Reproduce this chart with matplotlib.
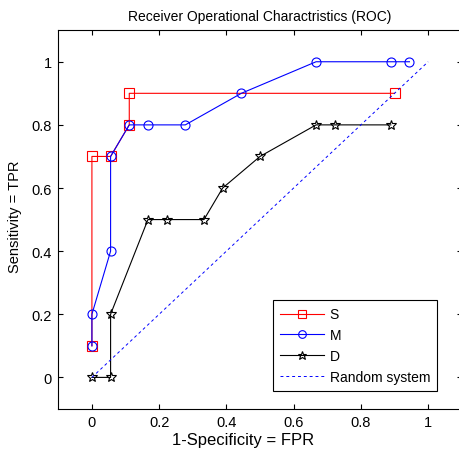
import numpy as np
import matplotlib
matplotlib.use("Agg")
import matplotlib.pyplot as plt

# ================================================================
# DATOS
# ================================================================
s_fpr = [0, 0, 1/18, 2/18, 2/18, 0.9]
s_tpr = [0.1, 0.7, 0.7, 0.8, 0.9, 0.9]

m_fpr = [0, 0, 1/18, 1/18, 2/18, 3/18, 5/18, 8/18, 12/18, 16/18, 17/18]
m_tpr = [0.1, 0.2, 0.4, 0.7, 0.8, 0.8, 0.8, 0.9, 1.0, 1.0, 1.0]

d_fpr = [0, 1/18, 1/18, 3/18, 4/18, 6/18, 7/18, 9/18, 12/18, 13/18, 16/18]
d_tpr = [0, 0, 0.2, 0.5, 0.5, 0.5, 0.6, 0.7, 0.8, 0.8, 0.8]

rand_x = [0, 1]
rand_y = [0, 1]

ticks = [0, 0.2, 0.4, 0.6, 0.8, 1]
tick_labels = ["0", "0.2", "0.4", "0.6", "0.8", "1"]

# ================================================================
# FIGURA
# ================================================================
plt.rcParams["font.family"] = ["Liberation Sans", "DejaVu Sans"]
plt.rcParams["font.size"] = 10.5

fig = plt.figure(figsize=(4.59, 4.52), dpi=100)
ax = fig.add_axes([0.127, 0.093, 0.879, 0.838])

ax.plot(s_fpr, s_tpr, color="red", lw=0.8, marker="s", ms=7,
        mfc="none", mec="red", mew=0.8, label="S")
ax.plot(m_fpr, m_tpr, color="blue", lw=0.8, marker="o", ms=6.5,
        mfc="none", mec="blue", mew=0.8, label="M")
ax.plot(d_fpr, d_tpr, color="black", lw=0.8, marker="*", ms=7.5,
        mfc="none", mec="black", mew=0.8, label="D")
ax.plot(rand_x, rand_y, color="blue", lw=0.7, ls=(0, (3, 3)),
        label="Random system")

ax.set_xlim(-0.1, 1.1)
ax.set_ylim(-0.1, 1.1)
ax.set_xticks(ticks)
ax.set_xticklabels(tick_labels)
ax.set_yticks(ticks)
ax.set_yticklabels(tick_labels)
ax.tick_params(direction="in", top=True, right=True, length=3.6,
               width=0.8, pad=4.5, labelsize=10.5)
for sp in ax.spines.values():
    sp.set_linewidth(0.8)

ax.set_title("Receiver Operational Charactristics (ROC)", fontsize=10, pad=7.5)
ax.set_xlabel("1-Specificity = FPR", fontsize=12)
ax.xaxis.set_label_coords(0.458, -0.062)
ax.set_ylabel("Sensitivity = TPR", fontsize=10.5)
ax.yaxis.set_label_coords(-0.09, 0.51)

leg = ax.legend(loc="lower right", bbox_to_anchor=(0.939, 0.047),
                borderaxespad=0, fontsize=10,
                fancybox=False, edgecolor="black", framealpha=1,
                handlelength=3.2, handletextpad=0.4, borderpad=0.5,
                labelspacing=0.5, markerscale=0.85)
leg.get_frame().set_linewidth(0.8)

fig.savefig("out.png", dpi=100)
